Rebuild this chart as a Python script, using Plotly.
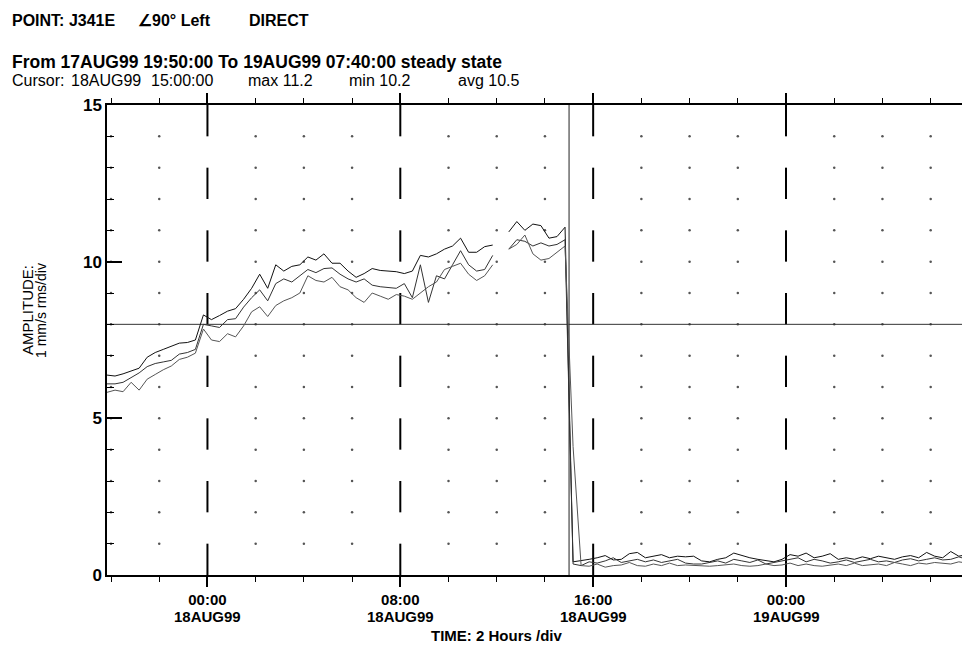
import plotly.graph_objects as go
import pandas as pd

# ---------------- data ----------------
times = pd.date_range("1999-08-17 19:50", periods=108, freq="20min")

a_rise = [6.38, 6.35, 6.42, 6.5, 6.6, 6.95, 7.1, 7.2, 7.3, 7.4,
          7.42, 7.5, 8.3, 8.15, 8.28, 8.42, 8.5, 8.8, 9.15, 9.6,
          9.15, 9.9, 9.7, 9.85, 9.9, 10.15, 10.05, 10.25, 9.95, 9.95,
          9.7, 9.5, 9.62, 9.78, 9.72, 9.7, 9.68, 9.62, 9.7, 10.2,
          10.15, 10.25, 10.4, 10.5, 10.75, 10.3, 10.3, 10.48, 10.53, None,
          10.95, 11.28, 11.0, 11.2, 11.15, 10.75, 10.8, 11.1]
b_rise = [6.1, 6.1, 6.15, 6.3, 6.45, 6.65, 6.75, 6.8, 6.85, 7.05,
          7.1, 7.2, 8.0, 7.95, 7.9, 8.15, 8.18, 8.55, 8.85, 9.1,
          8.75, 9.3, 9.45, 9.35, 9.55, 9.75, 9.65, 9.78, 9.8, 9.6,
          9.45, 9.35, 9.45, 9.25, 9.2, 9.18, 9.15, 9.3, 8.85, 9.9,
          8.7, 9.55, 9.45, 9.9, 10.35, 9.9, 9.7, 9.75, 10.2, None,
          10.4, 10.7, 10.65, 10.5, 10.6, 10.5, 10.55, 10.7]
c_rise = [5.83, 5.9, 5.85, 6.15, 5.9, 6.25, 6.4, 6.55, 6.67, 6.88,
          6.95, 7.08, 7.85, 7.5, 7.45, 7.7, 7.6, 7.95, 8.4, 8.56,
          8.25, 8.6, 8.75, 8.85, 9.0, 9.55, 9.4, 9.35, 9.5, 9.2,
          9.1, 8.85, 8.7, 9.0, 8.9, 8.8, 8.95, 8.9, 8.8, 9.0,
          9.2, 9.35, 9.75, 9.85, 9.95, 9.6, 9.4, 9.55, 9.9, None,
          10.4, 10.55, 10.85, 10.25, 10.05, 10.1, 10.3, 10.5]

a_after = [0.42, 0.45, 0.5, 0.55, 0.62, 0.48, 0.5, 0.68, 0.72, 0.55,
           0.6, 0.65, 0.55, 0.6, 0.58, 0.6, 0.45, 0.42, 0.5, 0.55,
           0.7, 0.62, 0.55, 0.5, 0.45, 0.42, 0.5, 0.65, 0.6, 0.7,
           0.55, 0.6, 0.68, 0.5, 0.55, 0.5, 0.58, 0.52, 0.6, 0.55,
           0.5, 0.58, 0.62, 0.55, 0.72, 0.6, 0.55, 0.75, 0.6, 0.65]
b_after = [0.35, 0.3, 0.42, 0.38, 0.45, 0.55, 0.4, 0.45, 0.5, 0.42,
           0.48, 0.4, 0.45, 0.5, 0.38, 0.35, 0.35, 0.4, 0.45, 0.38,
           0.5, 0.45, 0.4, 0.48, 0.35, 0.4, 0.45, 0.5, 0.55, 0.42,
           0.5, 0.45, 0.38, 0.42, 0.48, 0.4, 0.45, 0.5, 0.42, 0.45,
           0.4, 0.48, 0.52, 0.45, 0.5, 0.55, 0.48, 0.5, 0.58, 0.5]
c_after = [4.1, 0.3, 0.28, 0.35, 0.25, 0.3, 0.32, 0.4, 0.3, 0.28,
           0.35, 0.3, 0.38, 0.3, 0.32, 0.3, 0.3, 0.28, 0.3, 0.32,
           0.35, 0.3, 0.28, 0.3, 0.35, 0.3, 0.32, 0.38, 0.3, 0.35,
           0.3, 0.28, 0.32, 0.35, 0.3, 0.38, 0.3, 0.32, 0.35, 0.3,
           0.4, 0.35, 0.3, 0.38, 0.35, 0.4, 0.38, 0.35, 0.42, 0.38]

series_names = ["Trend 1", "Trend 2", "Trend 3"]
line_colors = ["#111111", "#333333", "#555555"]

major_times = ["1999-08-18 00:00", "1999-08-18 08:00", "1999-08-18 16:00", "1999-08-19 00:00"]
major_time_labels = ["00:00", "08:00", "16:00", "00:00"]
major_date_labels = ["18AUG99", "18AUG99", "18AUG99", "19AUG99"]
y_ticks = [0, 5, 10, 15]
y_ticklabels = ["0", "5", "10", "15"]
cursor_time = "1999-08-18 15:00"
alarm_level = 8
x_start = "1999-08-17 19:50"
x_end = "1999-08-19 07:18"
y_max = 15

# ---------------- figure ----------------
W, H = 962, 648
ML, MR, MT, MB = 107, 0, 105, 73
PW, PH = W - ML - MR, H - MT - MB


def paper(xp, yp):
    return (xp - ML) / PW, (H - MB - yp) / PH


fig = go.Figure()

# dotted grid (dots at 2-hour x 1-unit intersections)
minor_times = pd.date_range("1999-08-17 20:00", "1999-08-19 06:00", freq="2h")
major_ts = set(pd.to_datetime(major_times))
dx, dy = [], []
for t in minor_times:
    if t in major_ts:
        continue
    for lv in range(1, y_max):
        dx.append(t)
        dy.append(lv)
fig.add_trace(go.Scatter(x=dx, y=dy, mode="markers",
                         marker=dict(size=2.5, color="#555555"),
                         hoverinfo="skip", showlegend=False))

# dashed major verticals (1-unit dashes)
vx, vy = [], []
for t in major_times:
    for k in range(0, y_max, 2):
        vx += [t, t, None]
        vy += [k + 1, k, None]
fig.add_trace(go.Scatter(x=vx, y=vy, mode="lines",
                         line=dict(color="#000000", width=2),
                         hoverinfo="skip", showlegend=False))

# alarm line & cursor
fig.add_trace(go.Scatter(x=[x_start, x_end], y=[alarm_level, alarm_level], mode="lines",
                         line=dict(color="#333333", width=1),
                         hoverinfo="skip", showlegend=False))
fig.add_trace(go.Scatter(x=[cursor_time, cursor_time], y=[0, y_max], mode="lines",
                         line=dict(color="#222222", width=1),
                         hoverinfo="skip", showlegend=False))

# data series
for name, col, yr, ya in zip(series_names, line_colors,
                             [a_rise, b_rise, c_rise], [a_after, b_after, c_after]):
    fig.add_trace(go.Scatter(x=times, y=yr + ya, mode="lines", name=name,
                             line=dict(color=col, width=1), connectgaps=False))

FONT = "Liberation Sans, Arial, sans-serif"

fig.update_layout(
    width=W, height=H,
    margin=dict(l=ML, r=MR, t=MT, b=MB, pad=0),
    paper_bgcolor="white", plot_bgcolor="white",
    showlegend=False,
    font=dict(family=FONT, color="black", size=16),
    xaxis=dict(
        type="date", range=[x_start, x_end],
        showgrid=False, zeroline=False,
        showline=True, linecolor="black", linewidth=1.5, mirror="ticks",
        ticks="outside", ticklen=10, tickwidth=1.5, tickcolor="black",
        tickmode="array", tickvals=major_times,
        ticktext=["<b>%s</b>" % s for s in major_time_labels],
        tickfont=dict(family=FONT, size=15, color="black"),
        minor=dict(ticks="outside", ticklen=5, tickwidth=1, tickcolor="black",
                   tickmode="linear", tick0="1999-08-17 20:00", dtick=7200000,
                   showgrid=False),
    ),
    yaxis=dict(
        range=[0, y_max],
        showgrid=False, zeroline=False,
        showline=True, linecolor="black", linewidth=1.5,
        ticks="inside", ticklen=15, tickwidth=1.5, tickcolor="black",
        tickmode="array", tickvals=y_ticks,
        ticktext=["<b>%s</b>" % s for s in y_ticklabels],
        tickfont=dict(family=FONT, size=17, color="black"),
        minor=dict(ticks="inside", ticklen=7, tickwidth=1, tickcolor="black",
                   tickmode="linear", tick0=0, dtick=1, showgrid=False),
    ),
)

# date line under the time tick labels
_, date_y = paper(0, 616)
for t, lab in zip(major_times, major_date_labels):
    fig.add_annotation(text="<b>%s</b>" % lab, x=t, y=date_y, xref="x", yref="paper",
                       xanchor="center", yanchor="middle", showarrow=False,
                       font=dict(family=FONT, size=15, color="black"), borderpad=0)

annos = [
    ("<b>POINT: J341E</b>", 11, 21, 16),
    ("<b>∠90° Left</b>", 137, 21, 16),
    ("<b>DIRECT</b>", 248, 21, 16),
    ("<b>From 17AUG99 19:50:00 To 19AUG99 07:40:00 steady state</b>", 11, 62, 17.5),
    ("Cursor:", 11, 81, 16),
    ("18AUG99", 70, 81, 16),
    ("15:00:00", 150, 81, 16),
    ("max 11.2", 247, 81, 16),
    ("min 10.2", 348, 81, 16),
    ("avg 10.5", 457, 81, 16),
]
for txt, xp, yp, sz in annos:
    xx, yy = paper(xp, yp)
    fig.add_annotation(text=txt, x=xx, y=yy, xref="paper", yref="paper",
                       xanchor="left", yanchor="middle", showarrow=False,
                       font=dict(family=FONT, size=sz, color="black"), borderpad=0)

for txt, xp, yp, sz in [("AMPLITUDE:", 27, 310, 15), ("1 mm/s rms/div", 41, 311, 14)]:
    xx, yy = paper(xp, yp)
    fig.add_annotation(text=txt, x=xx, y=yy, xref="paper", yref="paper",
                       xanchor="center", yanchor="middle", textangle=-90,
                       showarrow=False, font=dict(family=FONT, size=sz, color="black"),
                       borderpad=0)

xx, yy = paper(497, 635)
fig.add_annotation(text="<b>TIME: 2 Hours /div</b>", x=xx, y=yy, xref="paper", yref="paper",
                   xanchor="center", yanchor="middle", showarrow=False,
                   font=dict(family=FONT, size=15, color="black"), borderpad=0)

fig.write_html("out.html")
